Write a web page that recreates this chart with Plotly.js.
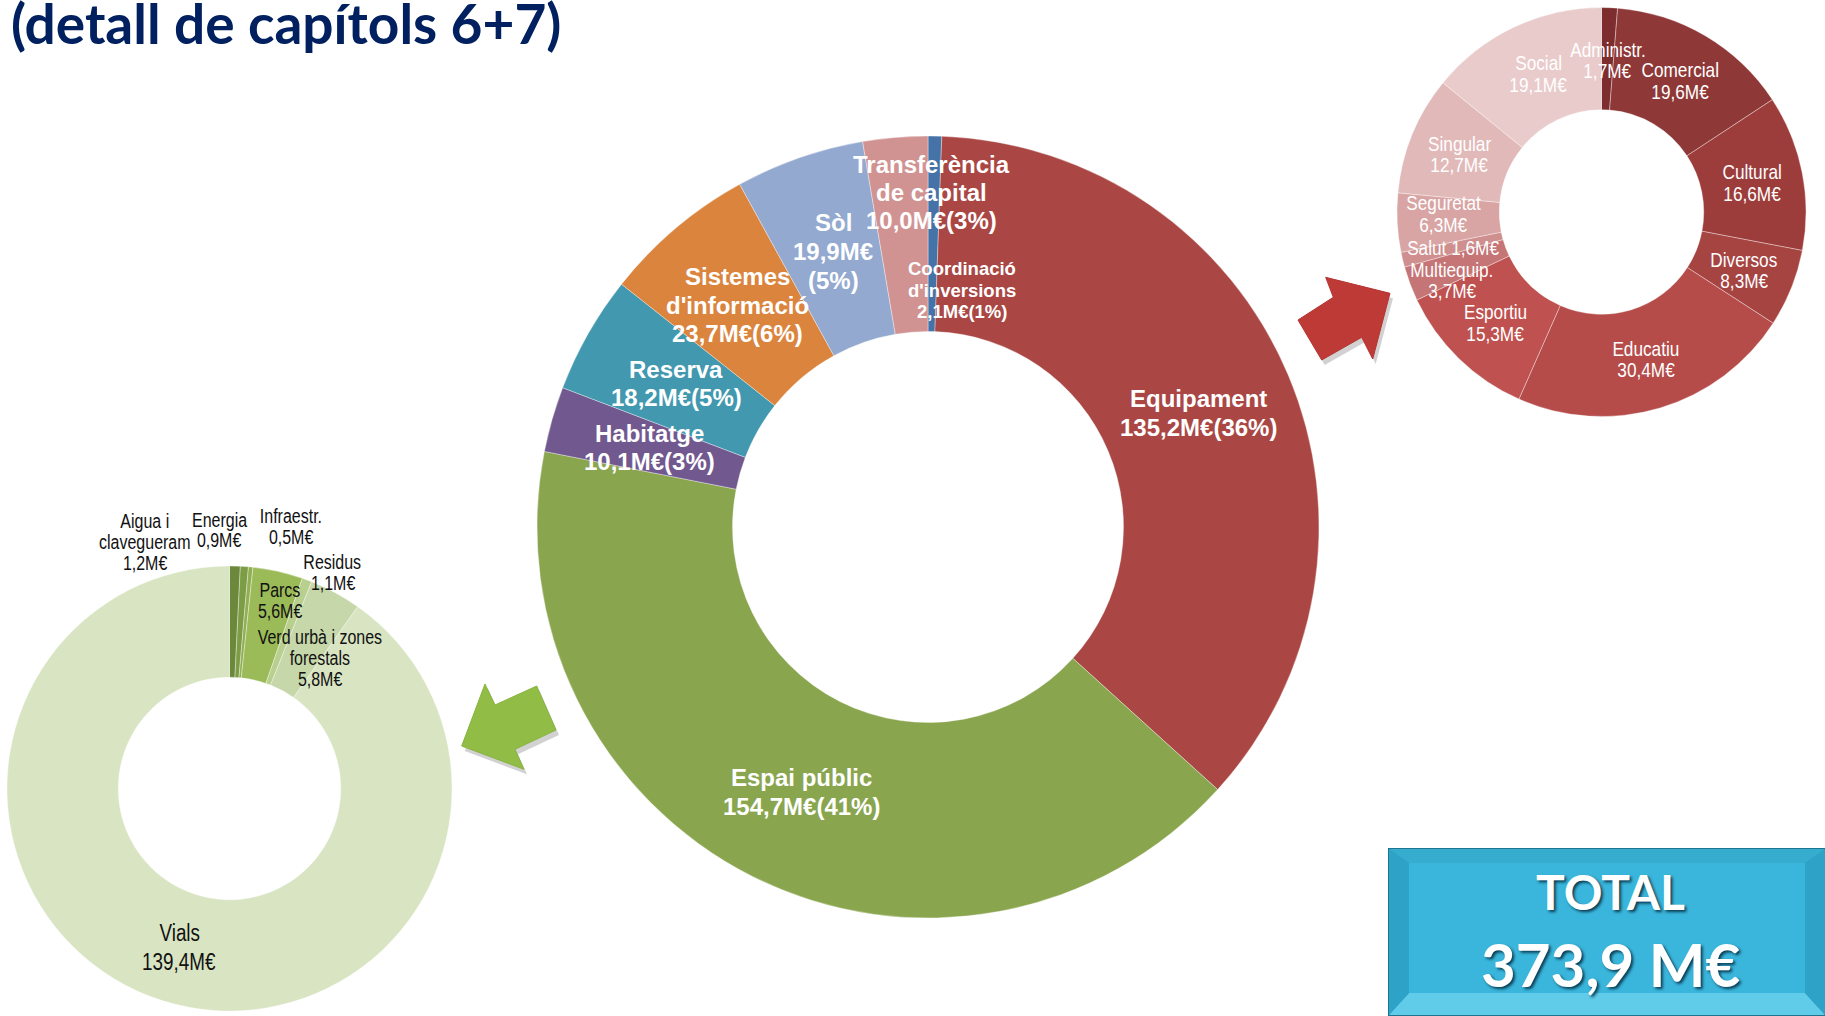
<!DOCTYPE html>
<html><head><meta charset="utf-8">
<script src="https://cdn.plot.ly/plotly-3.0.1.min.js"></script>
<style>html,body{margin:0;padding:0;background:#fff;overflow:hidden;} #chart{width:1825px;height:1016px;}</style>
</head><body><div id="chart"></div>
<script>
const W = 1825, H = 1016;

// ---------- DATA ----------
const titleText = "(detall de capítols 6+7)";

const mainLabels = ["Coordinació d'inversions", "Equipament", "Espai públic", "Habitatge", "Reserva", "Sistemes d'informació", "Sòl", "Transferència de capital"];
const mainValues = [2.1, 135.2, 154.7, 10.1, 18.2, 23.7, 19.9, 10.0];
const mainColors = ["#4572A7", "#AA4643", "#89A54E", "#71588F", "#4198AF", "#DB843D", "#93A9CF", "#D19392"];

const equipLabels = ["Administr.", "Comercial", "Cultural", "Diversos", "Educatiu", "Esportiu", "Multiequip.", "Salut", "Seguretat", "Singular", "Social"];
const equipValues = [1.7, 19.6, 16.6, 8.3, 30.4, 15.3, 3.7, 1.6, 6.3, 12.7, 19.1];
const equipColors = ["#7E2D2F", "#8E3837", "#9D3D3B", "#A64442", "#B54C4A", "#BF5250", "#C57576", "#CE8F8E", "#D8A4A4", "#E1B9B9", "#E9CBCB"];

const espaiLabels = ["Aigua i clavegueram", "Energia", "Infraestr.", "Parcs", "Residus", "Verd urbà i zones forestals", "Vials"];
const espaiValues = [1.2, 0.9, 0.5, 5.6, 1.1, 5.8, 139.4];
const espaiColors = ["#6C883B", "#7D9C46", "#8FAF52", "#9BBB59", "#B8CF8D", "#C6D7A9", "#D8E4C2"];

const totalLabel = "TOTAL";
const totalValue = 373.9;

// ---------- helpers ----------
const fmt = v => v.toFixed(1).replace('.', ',') + 'M€';
const px = x => x / W;
const py = y => 1 - y / H;
const mainSum = mainValues.reduce((a, b) => a + b, 0);
const pct = v => Math.round(v / mainSum * 100) + '%';

const BOLD = "'Liberation Sans', Arial, sans-serif";
const NARROW = "'Liberation Sans Narrow', 'Liberation Sans', Arial, sans-serif";

const annotations = [];
function addLines(lines, x, y, step, size, family, color, weight) {
  lines.forEach((t, i) => {
    annotations.push({
      text: t, xref: 'paper', yref: 'paper', x: px(x), y: py(y + i * step),
      xanchor: 'center', yanchor: 'middle', showarrow: false,
      font: {family: family, size: size, color: color, weight: weight || 400}
    });
  });
}

// ---------- label layout (positions in px) ----------
const mainText = {
  "Coordinació d'inversions": {name: ["Coordinació", "d'inversions"], x: 962, y: 268.5, step: 21.7, size: 18.5, mode: 'join'},
  "Equipament": {name: ["Equipament"], x: 1198, y: 399, step: 29, size: 24, mode: 'join'},
  "Espai públic": {name: ["Espai públic"], x: 801, y: 777, step: 29, size: 24, mode: 'join'},
  "Habitatge": {name: ["Habitatge"], x: 649, y: 433, step: 28.7, size: 24, mode: 'join'},
  "Reserva": {name: ["Reserva"], x: 676, y: 369.5, step: 27.5, size: 24, mode: 'join'},
  "Sistemes d'informació": {name: ["Sistemes", "d'informació"], x: 737.5, y: 277, step: 28.3, size: 24, mode: 'join'},
  "Sòl": {name: ["Sòl"], x: 833, y: 222, step: 29.2, size: 24, mode: 'split'},
  "Transferència de capital": {name: ["Transferència", "de capital"], x: 931, y: 164.5, step: 28, size: 24, mode: 'join'}
};
mainLabels.forEach((lab, i) => {
  const s = mainText[lab];
  const v = mainValues[i];
  const extra = s.mode === 'split' ? [fmt(v), '(' + pct(v) + ')'] : [fmt(v) + '(' + pct(v) + ')'];
  addLines(s.name.concat(extra), s.x, s.y, s.step, s.size, BOLD, '#ffffff', 700);
});

const equipText = {
  "Administr.": {name: ["Administr."], x: 1607.5, y: 49, step: 22},
  "Comercial": {name: ["Comercial"], x: 1680, y: 69.5, step: 21.7},
  "Cultural": {name: ["Cultural"], x: 1751.5, y: 171.7, step: 21.7},
  "Diversos": {name: ["Diversos"], x: 1744, y: 259.2, step: 21.7},
  "Educatiu": {name: ["Educatiu"], x: 1646, y: 348, step: 21.7},
  "Esportiu": {name: ["Esportiu"], x: 1495, y: 311.7, step: 21.7},
  "Multiequip.": {name: ["Multiequip."], x: 1452.3, y: 269.2, step: 21.3},
  "Salut": {name: [], inline: true, x: 1452.5, y: 247.5, step: 21.7},
  "Seguretat": {name: ["Seguretat"], x: 1443, y: 202.5, step: 21.5},
  "Singular": {name: ["Singular"], x: 1459, y: 143.3, step: 21.4},
  "Social": {name: ["Social"], x: 1538.3, y: 62.5, step: 22.5}
};
equipLabels.forEach((lab, i) => {
  const s = equipText[lab];
  const lines = s.inline ? [lab + ' ' + fmt(equipValues[i])] : s.name.concat([fmt(equipValues[i])]);
  addLines(lines, s.x, s.y, s.step, 21, NARROW, '#ffffff', 400);
});

const espaiText = {
  "Aigua i clavegueram": {name: ["Aigua i", "clavegueram"], x: 144.5, y: 521, step: 20.9, size: 19.5},
  "Energia": {name: ["Energia"], x: 219, y: 520, step: 19.7, size: 19.5},
  "Infraestr.": {name: ["Infraestr."], x: 290.5, y: 516.3, step: 20.7, size: 19.5},
  "Parcs": {name: ["Parcs"], x: 279.7, y: 589.7, step: 21.1, size: 19.5},
  "Residus": {name: ["Residus"], x: 332.8, y: 561.7, step: 21, size: 19.5},
  "Verd urbà i zones forestals": {name: ["Verd urbà i zones", "forestals"], x: 320, y: 636.7, step: 21.3, size: 19.5},
  "Vials": {name: ["Vials"], x: 179, y: 933.3, step: 28.4, size: 23}
};
espaiLabels.forEach((lab, i) => {
  const s = espaiText[lab];
  addLines(s.name.concat([fmt(espaiValues[i])]), s.x, s.y, s.step, s.size, NARROW, '#111111', 400);
});

// title
annotations.push({
  text: titleText, xref: 'paper', yref: 'paper', x: px(9), y: py(23.5),
  xanchor: 'left', yanchor: 'middle', showarrow: false,
  font: {family: "Lato, 'Open Sans', sans-serif", size: 55, color: '#002060', weight: 700}
});

// total box text
annotations.push({
  text: totalLabel, xref: 'paper', yref: 'paper', x: px(1610), y: py(891),
  xanchor: 'center', yanchor: 'middle', showarrow: false,
  font: {family: "Lato, sans-serif", size: 48, color: '#ffffff', weight: 700, shadow: '2px 2px 3px rgba(0,40,60,0.85)'}
});
annotations.push({
  text: totalValue.toFixed(1).replace('.', ',') + ' M€', xref: 'paper', yref: 'paper', x: px(1610), y: py(964),
  xanchor: 'center', yanchor: 'middle', showarrow: false,
  font: {family: "Lato, sans-serif", size: 60, color: '#ffffff', weight: 700, shadow: '2px 2px 3px rgba(0,40,60,0.85)'}
});

// ---------- shapes (decoration) ----------
function pathOf(pts) {
  return 'M' + pts.map(p => px(p[0]).toFixed(5) + ',' + py(p[1]).toFixed(5)).join(' L') + ' Z';
}
function shift(pts, dx, dy) { return pts.map(p => [p[0] + dx, p[1] + dy]); }
const shapes = [];
function poly(pts, fill, line, lw) {
  shapes.push({type: 'path', xref: 'paper', yref: 'paper', path: pathOf(pts), fillcolor: fill,
    line: {color: line || 'rgba(0,0,0,0)', width: lw || 0}, layer: 'above'});
}

const redArrow = [[1298, 320], [1321.7, 360], [1361.7, 337.3], [1372.7, 359], [1390, 293.3], [1325.7, 277.3], [1333.3, 297.3]];
poly(shift(redArrow, 3, 5), 'rgba(0,0,0,0.18)');
poly(redArrow, '#BE3A36', '#B53431', 1);

const greenArrow = [[461.7, 746], [485, 684], [495, 705], [536.7, 686], [556, 730], [515, 749.3], [524, 769.3]];
poly(shift(greenArrow, 3, 5), 'rgba(0,0,0,0.18)');
poly(greenArrow, '#91BC46', '#88B33F', 1);

// total box (bevelled)
const bx0 = 1389, by0 = 849, bx1 = 1825, by1 = 1015;
poly([[bx0 + 4, by0 + 5], [bx1 + 4, by0 + 5], [bx1 + 4, by1 + 5], [bx0 + 4, by1 + 5]], 'rgba(0,0,0,0.25)');
poly([[bx0, by0], [bx1, by0], [bx1, by1], [bx0, by1]], '#2FA6C9', '#1E7590', 2);
const bt = 14, bb = 22, bl = 20, br = 20;
poly([[bx0, by0], [bx1, by0], [bx1 - br, by0 + bt], [bx0 + bl, by0 + bt]], '#36ACCF');
poly([[bx0, by1], [bx1, by1], [bx1 - br, by1 - bb], [bx0 + bl, by1 - bb]], '#60CCE9');
poly([[bx0, by0], [bx0 + bl, by0 + bt], [bx0 + bl, by1 - bb], [bx0, by1]], '#2FA3C7');
poly([[bx1, by0], [bx1 - br, by0 + bt], [bx1 - br, by1 - bb], [bx1, by1]], '#2FA3C7');
poly([[bx0 + bl, by0 + bt], [bx1 - br, by0 + bt], [bx1 - br, by1 - bb], [bx0 + bl, by1 - bb]], '#3AB6DC');

// ---------- traces ----------
const sep = {color: 'rgba(255,255,255,0.45)', width: 0.8};
const common = {type: 'pie', sort: false, direction: 'clockwise', rotation: 0, hole: 0.5, textinfo: 'none', hoverinfo: 'label+value', showlegend: false};

const traces = [
  Object.assign({}, common, {labels: mainLabels, values: mainValues, marker: {colors: mainColors, line: sep},
    domain: {x: [px(537), px(1319)], y: [py(918), py(136)]}}),
  Object.assign({}, common, {labels: equipLabels, values: equipValues, marker: {colors: equipColors, line: sep},
    domain: {x: [px(1397), px(1806)], y: [py(416.5), py(7.5)]}}),
  Object.assign({}, common, {labels: espaiLabels, values: espaiValues, marker: {colors: espaiColors, line: sep},
    domain: {x: [px(7), px(452)], y: [py(1011), py(566)]}})
];

const layout = {
  width: W, height: H, margin: {l: 0, r: 0, t: 0, b: 0},
  paper_bgcolor: '#ffffff', plot_bgcolor: '#ffffff',
  showlegend: false, annotations: annotations, shapes: shapes
};

function narrowText() {
  document.querySelectorAll('text.annotation-text').forEach(t => {
    const ff = t.style.fontFamily || '';
    if (ff.indexOf('Narrow') >= 0) {
      t.style.transformBox = 'fill-box';
      t.style.transformOrigin = 'center';
      t.style.transform = 'scaleX(0.82)';
    }
  });
}
Plotly.newPlot('chart', traces, layout, {displayModeBar: false, staticPlot: true}).then(narrowText);
narrowText();
</script>
</body></html>
